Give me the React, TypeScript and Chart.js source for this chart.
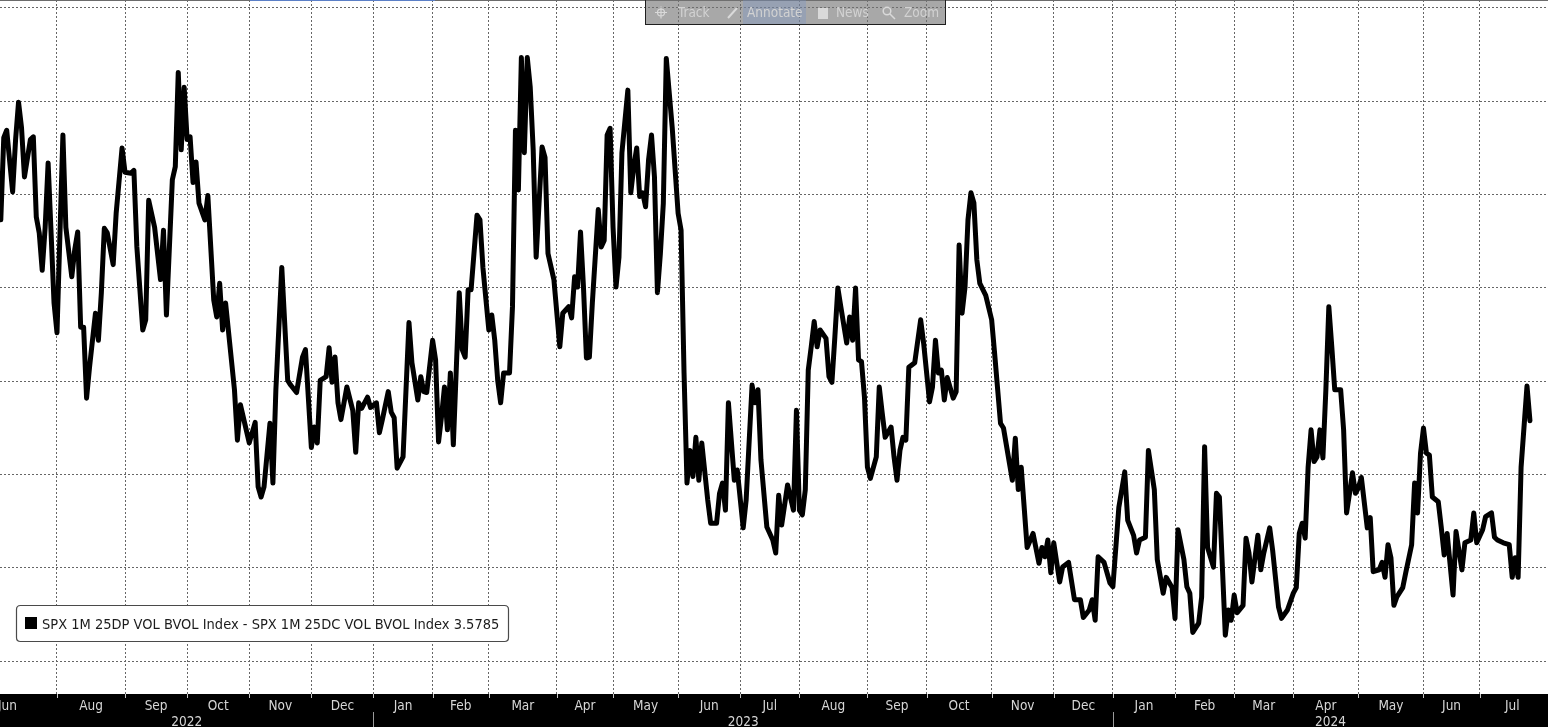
import React, { useEffect, useRef } from "react";
import { Chart, registerables } from "chart.js";

Chart.register(...registerables);

// trading-day index (0 = 1 Jul 2022) and SPX 1M 25DP - 25DC vol spread
const tradingDay = [
  1, 2, 3, 5, 6, 7, 8, 9, 11, 12, 13, 14, 15, 16, 17, 19, 20, 22, 23, 25, 26, 27, 28, 29, 30, 31, 33, 34, 35, 36,
  37, 39, 40, 42, 43, 45, 46, 47, 49, 50, 51, 53, 55, 56, 57, 59, 60, 61, 62, 63, 64, 65, 66, 67, 68, 70, 71, 73, 74, 75,
  76, 77, 80, 81, 82, 85, 87, 88, 89, 90, 92, 93, 94, 96, 98, 99, 101, 103, 104, 106, 107, 108, 109, 111, 112, 113, 114, 115, 116, 118,
  120, 121, 122, 123, 125, 126, 128, 129, 130, 132, 133, 134, 135, 137, 139, 140, 142, 143, 144, 145, 147, 148, 149, 150, 151, 152, 153, 154, 156, 157,
  158, 159, 160, 162, 163, 164, 166, 167, 168, 169, 170, 171, 173, 174, 175, 176, 177, 178, 179, 180, 181, 182, 184, 185, 186, 188, 190, 191, 193, 194,
  195, 196, 197, 198, 199, 200, 201, 203, 204, 205, 206, 207, 208, 209, 210, 211, 213, 214, 215, 216, 217, 218, 219, 220, 221, 222, 223, 224, 225, 226,
  228, 230, 231, 232, 233, 234, 235, 236, 237, 238, 240, 241, 243, 244, 245, 246, 247, 249, 250, 252, 253, 255, 256, 257, 258, 260, 262, 263, 264, 265,
  267, 269, 270, 271, 272, 273, 274, 275, 276, 277, 278, 280, 281, 282, 283, 284, 285, 287, 288, 289, 290, 291, 292, 293, 294, 295, 297, 298, 299, 300,
  302, 303, 304, 305, 306, 307, 308, 310, 312, 313, 315, 316, 317, 318, 319, 320, 321, 323, 324, 325, 326, 327, 328, 329, 330, 331, 332, 334, 336, 337,
  339, 340, 343, 344, 345, 346, 348, 350, 352, 353, 354, 355, 356, 357, 359, 360, 362, 364, 366, 367, 369, 370, 371, 372, 374, 376, 377, 379, 381, 382,
  384, 385, 386, 388, 389, 391, 392, 394, 395, 397, 398, 399, 401, 402, 403, 404, 406, 407, 408, 409, 411, 412, 413, 415, 416, 417, 418, 419, 421, 422,
  423, 424, 426, 427, 428, 430, 431, 433, 434, 436, 438, 439, 440, 441, 442, 443, 444, 445, 446, 447, 448, 449, 450, 451, 452, 454, 455, 456, 457, 458,
  459, 460, 461, 463, 464, 465, 467, 468, 469, 470, 471, 472, 473, 475, 476, 478, 479, 480, 481, 482, 483, 484, 485, 487, 488, 489, 490, 492, 493, 495,
  496, 498, 499, 500, 502, 503, 505, 506, 507, 509, 511, 512, 513, 514, 515, 517, 518,
];

const spread = [
  5.73, 6.61, 6.69, 6.03, 6.59, 6.99, 6.72, 6.19, 6.59, 6.62, 5.76, 5.59, 5.19, 5.65, 6.34, 4.84, 4.52, 6.64, 5.65, 5.12, 5.41, 5.6, 4.58, 4.58, 3.82, 4.15, 4.73, 4.44, 4.95, 5.64,
  5.59, 5.25, 5.8, 6.5, 6.24, 6.23, 6.26, 5.44, 4.55, 4.66, 5.94, 5.65, 5.09, 5.62, 4.71, 6.16, 6.3, 7.31, 6.48, 7.15, 6.59, 6.62, 6.13, 6.35, 5.91, 5.73, 5.99, 4.87, 4.69, 5.05,
  4.55, 4.84, 3.91, 3.37, 3.75, 3.34, 3.56, 2.87, 2.76, 2.87, 3.55, 2.91, 3.91, 5.22, 4.01, 3.96, 3.88, 4.26, 4.34, 3.29, 3.51, 3.34, 4.01, 4.05, 4.36, 3.99, 4.26, 3.77, 3.59, 3.94,
  3.69, 3.24, 3.77, 3.71, 3.83, 3.72, 3.77, 3.45, 3.59, 3.89, 3.67, 3.61, 3.07, 3.19, 4.63, 4.2, 3.8, 4.05, 3.89, 3.88, 4.44, 4.23, 3.35, 3.62, 3.94, 3.48, 4.09, 3.32, 4.95, 4.34,
  4.26, 4.98, 4.98, 5.78, 5.73, 5.22, 4.55, 4.71, 4.44, 4.01, 3.77, 4.09, 4.09, 4.8, 6.69, 6.05, 7.47, 6.45, 7.47, 7.15, 6.48, 5.33, 6.51, 6.4, 5.37, 5.09, 4.37, 4.73, 4.8, 4.68,
  5.12, 5.01, 5.6, 5.01, 4.25, 4.26, 4.84, 5.84, 5.44, 5.51, 6.64, 6.71, 5.65, 5.01, 5.33, 6.45, 7.12, 6.02, 6.3, 6.5, 5.98, 6.02, 5.87, 6.37, 6.64, 6.19, 4.95, 5.37, 5.91, 7.46,
  6.72, 5.8, 5.62, 4.09, 2.91, 3.26, 2.98, 3.4, 2.94, 3.34, 2.73, 2.48, 2.48, 2.8, 2.91, 2.62, 3.77, 2.94, 3.05, 2.43, 2.73, 3.96, 3.77, 3.91, 3.16, 2.44, 2.3, 2.16, 2.78, 2.46,
  2.89, 2.62, 3.69, 2.62, 2.57, 2.84, 4.12, 4.37, 4.64, 4.37, 4.55, 4.46, 4.05, 3.99, 4.48, 5.0, 4.8, 4.41, 4.69, 4.44, 5.0, 4.23, 4.21, 3.83, 3.08, 2.96, 3.19, 3.94, 3.66, 3.4,
  3.51, 3.19, 2.94, 3.26, 3.4, 3.37, 4.15, 4.2, 4.66, 4.41, 3.78, 3.94, 4.44, 4.09, 4.12, 3.8, 4.04, 3.82, 3.89, 5.46, 4.73, 5.01, 5.73, 6.02, 5.91, 5.3, 5.05, 4.92, 4.66, 4.3,
  3.55, 3.5, 2.94, 3.39, 2.84, 3.08, 2.22, 2.37, 2.05, 2.22, 2.12, 2.3, 1.95, 2.27, 1.85, 2.01, 2.06, 1.66, 1.66, 1.47, 1.55, 1.66, 1.44, 2.12, 2.06, 1.84, 1.8, 2.65, 3.03, 2.51,
  2.35, 2.16, 2.3, 2.33, 3.26, 2.84, 2.09, 1.73, 1.9, 1.79, 1.46, 2.41, 2.09, 1.8, 1.73, 1.31, 1.41, 1.69, 3.3, 2.22, 2.01, 2.8, 2.76, 1.28, 1.55, 1.44, 1.71, 1.52, 1.6, 2.32,
  2.16, 1.85, 2.35, 1.98, 2.16, 2.43, 2.19, 1.58, 1.46, 1.55, 1.73, 1.79, 2.37, 2.48, 2.32, 3.08, 3.48, 3.14, 3.19, 3.48, 3.18, 3.91, 4.8, 4.37, 3.91, 3.91, 3.48, 2.59, 2.8, 3.02,
  2.8, 2.86, 2.97, 2.43, 2.54, 1.96, 1.98, 2.06, 1.9, 2.25, 2.11, 1.6, 1.69, 1.79, 1.95, 2.25, 2.91, 2.59, 3.23, 3.5, 3.23, 3.21, 2.76, 2.71, 2.44, 2.14, 2.37, 1.71, 2.39, 1.98,
  2.27, 2.3, 2.59, 2.27, 2.41, 2.55, 2.59, 2.33, 2.3, 2.27, 2.25, 1.9, 2.11, 1.9, 3.08, 3.95, 3.5785,
];

// first trading day of each month (Jul 2022 ... Jul 2024) and the end of the window
const monthStartDay = [0, 20, 43, 64, 85, 106, 127, 147, 166, 189, 208, 230, 251, 271, 294, 314, 336, 357, 377, 398, 418, 438, 460, 482, 501, 523];
const monthLabels = ["Jun", "Aug", "Sep", "Oct", "Nov", "Dec", "Jan", "Feb", "Mar", "Apr", "May", "Jun", "Jul", "Aug", "Sep", "Oct", "Nov", "Dec", "Jan", "Feb", "Mar", "Apr", "May", "Jun", "Jul"];
const yearStartDay = [0, 127, 377];
const yearLabels = ["2022", "2023", "2024"];
const yTicks = [1, 2, 3, 4, 5, 6, 7, 8];

const X_MIN = 0.73;
const X_MAX = 524.1;
const Y_MIN = 0.65;
const Y_MAX = 8.0857;

const seriesName = "SPX 1M 25DP VOL BVOL Index - SPX 1M 25DC VOL BVOL Index";
const lastValue = "3.5785";
const toolbarItems = ["Track", "Annotate", "News", "Zoom"];

const LABEL_FONT = '"DejaVu Sans Condensed", "DejaVu Sans", sans-serif';

const framePlugin = {
  id: "bbgFrame",
  beforeDraw(chart: any) {
    const { ctx, width, height } = chart;
    ctx.save();
    ctx.fillStyle = "#ffffff";
    ctx.fillRect(0, 0, width, height);
    ctx.restore();
  },
  afterDraw(chart: any) {
    const { ctx, chartArea: a, width, height } = chart;
    const x = chart.scales.x;
    ctx.save();

    // top border
    ctx.fillStyle = "#6b6b6b";
    ctx.fillRect(0, 0, width, 1);
    ctx.fillStyle = "#5b7fc7";
    ctx.fillRect(250, 0, 185, 1);

    // bottom black axis band
    ctx.fillStyle = "#000000";
    ctx.fillRect(0, a.bottom, width, height - a.bottom);

    // tick marks
    ctx.strokeStyle = "#c8c8c8";
    ctx.lineWidth = 1;
    monthStartDay.forEach((d) => {
      if (d <= X_MIN || d >= X_MAX - 2) return;
      const px = Math.round(x.getPixelForValue(d)) + 0.5;
      ctx.beginPath();
      ctx.moveTo(px, a.bottom);
      ctx.lineTo(px, a.bottom + 4);
      ctx.stroke();
    });

    // month labels
    ctx.fillStyle = "#d6d6d6";
    ctx.font = `13.5px ${LABEL_FONT}`;
    ctx.textBaseline = "alphabetic";
    monthLabels.forEach((lab, i) => {
      const s = Math.max(monthStartDay[i], X_MIN);
      const e = Math.min(monthStartDay[i + 1], X_MAX);
      if (i === 0) {
        ctx.textAlign = "left";
        ctx.fillText(lab, a.left - 2, a.bottom + 16);
      } else {
        ctx.textAlign = "center";
        const cx = (x.getPixelForValue(s) + x.getPixelForValue(e)) / 2;
        ctx.fillText(lab, cx, a.bottom + 16);
      }
    });

    // year labels and separators
    yearLabels.forEach((lab, i) => {
      const s = Math.max(yearStartDay[i], X_MIN);
      const e = i + 1 < yearStartDay.length ? yearStartDay[i + 1] : X_MAX;
      const cx = (x.getPixelForValue(s) + x.getPixelForValue(e)) / 2;
      ctx.textAlign = "center";
      ctx.fillStyle = "#d6d6d6";
      ctx.fillText(lab, cx, a.bottom + 32);
      if (i > 0) {
        const px = Math.round(x.getPixelForValue(yearStartDay[i])) + 0.5;
        ctx.strokeStyle = "#9a9a9a";
        ctx.beginPath();
        ctx.moveTo(px, a.bottom + 18);
        ctx.lineTo(px, height);
        ctx.stroke();
      }
    });

    // legend box
    const lx = 16.5, ly = 605.5, lw = 492, lh = 36, r = 4;
    ctx.beginPath();
    ctx.moveTo(lx + r, ly);
    ctx.lineTo(lx + lw - r, ly);
    ctx.quadraticCurveTo(lx + lw, ly, lx + lw, ly + r);
    ctx.lineTo(lx + lw, ly + lh - r);
    ctx.quadraticCurveTo(lx + lw, ly + lh, lx + lw - r, ly + lh);
    ctx.lineTo(lx + r, ly + lh);
    ctx.quadraticCurveTo(lx, ly + lh, lx, ly + lh - r);
    ctx.lineTo(lx, ly + r);
    ctx.quadraticCurveTo(lx, ly, lx + r, ly);
    ctx.closePath();
    ctx.fillStyle = "#ffffff";
    ctx.fill();
    ctx.strokeStyle = "#4a4a4a";
    ctx.lineWidth = 1.2;
    ctx.stroke();
    ctx.fillStyle = "#000000";
    ctx.fillRect(25, 617, 12, 12);
    ctx.fillStyle = "#1c1c1c";
    ctx.font = `14.5px ${LABEL_FONT}`;
    ctx.textAlign = "left";
    ctx.textBaseline = "alphabetic";
    ctx.fillText(`${seriesName} ${lastValue}`, 42, 629);

    // toolbar
    const tx = 645.5, tw = 300, th = 25;
    ctx.fillStyle = "rgba(115,115,115,0.62)";
    ctx.fillRect(tx, 0, tw, th);
    ctx.fillStyle = "rgba(120,150,200,0.35)";
    ctx.fillRect(743, 0, 63, th);
    ctx.strokeStyle = "#1e1e1e";
    ctx.lineWidth = 1;
    ctx.strokeRect(tx, -1, tw, th + 0.5);

    ctx.strokeStyle = "#d9d9d9";
    ctx.fillStyle = "#d9d9d9";
    ctx.lineWidth = 1.2;
    // crosshair
    ctx.beginPath();
    ctx.arc(661, 12.5, 3.5, 0, Math.PI * 2);
    ctx.moveTo(655, 12.5); ctx.lineTo(667, 12.5);
    ctx.moveTo(661, 6.5); ctx.lineTo(661, 18.5);
    ctx.stroke();
    // pencil
    ctx.lineWidth = 2;
    ctx.beginPath();
    ctx.moveTo(728, 18); ctx.lineTo(737, 8);
    ctx.stroke();
    // doc
    ctx.fillRect(818, 8, 10, 11);
    // magnifier
    ctx.lineWidth = 1.5;
    ctx.beginPath();
    ctx.arc(887, 11, 3.8, 0, Math.PI * 2);
    ctx.moveTo(890, 14); ctx.lineTo(895, 19);
    ctx.stroke();

    ctx.font = `13.5px ${LABEL_FONT}`;
    ctx.textAlign = "left";
    ctx.textBaseline = "middle";
    ctx.fillStyle = "#d2d2d2";
    const txs = [678, 747, 836, 904];
    toolbarItems.forEach((t, i) => ctx.fillText(t, txs[i], 13));

    ctx.restore();
  },
};

export default function App() {
  const canvasRef = useRef<HTMLCanvasElement | null>(null);

  useEffect(() => {
    document.body.style.margin = "0";
    const canvas = canvasRef.current;
    if (!canvas) return;
    const chart = new Chart(canvas, {
      type: "line",
      data: {
        datasets: [
          {
            label: seriesName,
            data: tradingDay.map((d, i) => ({ x: d, y: spread[i] })),
            borderColor: "#000000",
            backgroundColor: "#000000",
            borderWidth: 5,
            borderJoinStyle: "round",
            borderCapStyle: "round",
            pointRadius: 0,
            tension: 0,
          },
        ],
      },
      options: {
        animation: false,
        responsive: false,
        maintainAspectRatio: false,
        devicePixelRatio: 1,
        layout: { padding: { left: 0, right: 0, top: 0, bottom: 33 } },
        plugins: {
          legend: { display: false },
          tooltip: { enabled: false },
          title: { display: false },
        },
        scales: {
          x: {
            type: "linear",
            min: X_MIN,
            max: X_MAX,
            afterBuildTicks: (scale: any) => {
              scale.ticks = monthStartDay.filter((d) => d > X_MIN && d < X_MAX - 2).map((v) => ({ value: v }));
            },
            ticks: { display: false },
            grid: { color: "#666666", lineWidth: 1, drawTicks: false },
            border: { display: false, dash: [2, 2] },
          },
          y: {
            type: "linear",
            min: Y_MIN,
            max: Y_MAX,
            afterBuildTicks: (scale: any) => {
              scale.ticks = yTicks.map((v) => ({ value: v }));
            },
            ticks: { display: false },
            grid: { color: "#666666", lineWidth: 1, drawTicks: false },
            border: { display: false, dash: [2, 2] },
          },
        },
      },
      plugins: [framePlugin],
    } as any);
    return () => chart.destroy();
  }, []);

  return (
    <div style={{ position: "absolute", left: 0, top: 0, width: 1548, height: 727 }}>
      <canvas ref={canvasRef} width={1548} height={727} style={{ display: "block" }} />
    </div>
  );
}
